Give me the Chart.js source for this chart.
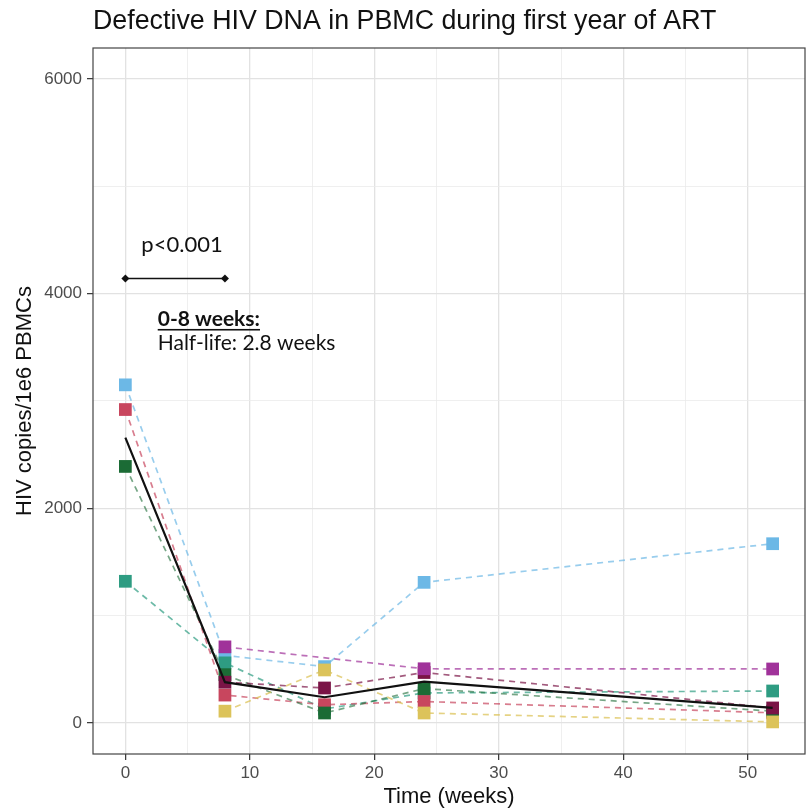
<!DOCTYPE html>
<html>
<head>
<meta charset="utf-8">
<script src="https://cdn.jsdelivr.net/npm/chart.js@4.4.1/dist/chart.umd.min.js"></script>
<style>
  html, body { margin: 0; padding: 0; background: #fff; }
  canvas { display: block; }
</style>
</head>
<body>
<canvas id="chart" width="808" height="811"></canvas>
<script>
// data (HIV copies / 1e6 PBMCs)
const weeks = [0, 8, 16, 24, 52];
const ptBlue      = [3150, 630, 525, 1310, 1670];
const ptRed       = [2920, 260, 170, 200, 95];
const ptDarkGreen = [2390, 450, 93, 320, 110];
const ptTeal      = [1320, 560, 130, 280, 298];
const ptPurple    = [null, 709, null, 505, 503];
const ptMaroon    = [null, 380, 326, 470, 140];
const ptYellow    = [null, 110, 494, 93, 10];
const meanFit     = [2658, 380, 240, 385, 140];

const sigWeeks = [0, 8];
const sigLevel = 4140;

const xTicks = [0, 10, 20, 30, 40, 50];
const yTicks = [0, 2000, 4000, 6000];

const titleText = 'Defective HIV DNA in PBMC during first year of ART';
const xTitle = 'Time (weeks)';
const yTitle = 'HIV copies/1e6 PBMCs';
const pText = 'p<0.001';
const rangeText = '0-8 weeks:';
const halfLifeText = 'Half-life: 2.8 weeks';

// listed bottom to top (later ones are drawn over earlier ones)
const participants = [
  { data: ptBlue,      color: '#6CB8E6', line: 'rgba(108,184,230,0.7)' },
  { data: ptTeal,      color: '#2E9C82', line: 'rgba(46,156,130,0.7)' },
  { data: ptRed,       color: '#C8465E', line: 'rgba(200,70,94,0.7)' },
  { data: ptDarkGreen, color: '#1B6B35', line: 'rgba(27,107,53,0.6)' },
  { data: ptYellow,    color: '#DCC35A', line: 'rgba(220,195,90,0.75)' },
  { data: ptMaroon,    color: '#7A1446', line: 'rgba(122,20,70,0.7)' },
  { data: ptPurple,    color: '#A0329A', line: 'rgba(160,50,154,0.7)' }
];

const toXY = vals => weeks.map((w, i) => ({ x: w, y: vals[i] }));
const n = participants.length;

const datasets = [];
participants.forEach((p, i) => {
  datasets.push({
    data: toXY(p.data),
    borderColor: p.line,
    borderWidth: 1.7,
    borderDash: [6, 5],
    pointRadius: 0,
    spanGaps: true,
    order: 20 + n - i
  });
  datasets.push({
    data: toXY(p.data),
    showLine: false,
    pointStyle: 'rect',
    pointRadius: 9,
    pointBackgroundColor: p.color,
    pointBorderWidth: 0,
    order: 2 + n - i
  });
});
datasets.push({
  data: toXY(meanFit),
  borderColor: '#111',
  borderWidth: 2.2,
  pointRadius: 0,
  order: 1
});
datasets.push({
  data: sigWeeks.map(w => ({ x: w, y: sigLevel })),
  borderColor: '#111',
  borderWidth: 1.6,
  pointStyle: 'rectRot',
  pointRadius: 4,
  pointBackgroundColor: '#111',
  pointBorderWidth: 0,
  order: 0
});

const minorX = xTicks.slice(0, -1).map(v => v + 5);
const minorY = yTicks.slice(0, -1).map(v => v + 1000);

const gridOpts = majors => ({
  color: c => majors.includes(c.tick.value) ? '#E2E2E2' : '#EBEBEB',
  lineWidth: c => majors.includes(c.tick.value) ? 1.3 : 0.8,
  tickColor: c => majors.includes(c.tick.value) ? '#333' : 'rgba(0,0,0,0)',
  tickLength: 6,
  tickWidth: 1.2,
  drawTicks: true
});

const extras = {
  id: 'extras',
  afterDraw(chart) {
    const { ctx, chartArea: a, scales: { x, y } } = chart;
    ctx.save();
    // panel border
    ctx.strokeStyle = '#444';
    ctx.lineWidth = 1.2;
    ctx.strokeRect(a.left, a.top, a.right - a.left, a.bottom - a.top);
    // title
    ctx.fillStyle = '#111';
    ctx.font = '26.8px "Liberation Sans", Arial, sans-serif';
    ctx.textBaseline = 'alphabetic';
    ctx.textAlign = 'left';
    ctx.fillText(titleText, a.left, 29);
    // annotations
    ctx.textBaseline = 'middle';
    ctx.textAlign = 'center';
    ctx.font = '22px Lato, "Open Sans", sans-serif';
    ctx.fillText(pText, x.getPixelForValue(4.55), y.getPixelForValue(4453));
    ctx.textAlign = 'left';
    const lx = x.getPixelForValue(2.6);
    ctx.font = 'bold 21px Lato, "Open Sans", sans-serif';
    const ry = y.getPixelForValue(3764);
    ctx.fillText(rangeText, lx, ry);
    const w = ctx.measureText(rangeText).width;
    ctx.fillRect(lx, ry + 10, w, 1.6);
    ctx.font = '21px Lato, "Open Sans", sans-serif';
    ctx.fillText(halfLifeText, lx, y.getPixelForValue(3540));
    ctx.restore();
  }
};

new Chart(document.getElementById('chart'), {
  type: 'line',
  data: { datasets },
  plugins: [extras],
  options: {
    responsive: false,
    animation: false,
    devicePixelRatio: 1,
    layout: { autoPadding: false, padding: { top: 48, right: 3, left: 0, bottom: 0 } },
    plugins: { legend: { display: false }, tooltip: { enabled: false } },
    scales: {
      x: {
        type: 'linear',
        min: -2.6,
        max: 54.6,
        afterBuildTicks: s => { s.ticks = [...xTicks, ...minorX].sort((a, b) => a - b).map(v => ({ value: v })); },
        afterFit: s => { s.height = 57; s.paddingLeft = 0; s.paddingRight = 0; },
        border: { display: false },
        grid: gridOpts(xTicks),
        ticks: {
          autoSkip: false,
          maxRotation: 0,
          padding: 3,
          color: '#4D4D4D',
          font: { family: '"Liberation Sans", Arial, sans-serif', size: 17 },
          callback: v => xTicks.includes(v) ? String(v) : ''
        },
        title: {
          display: true,
          text: xTitle,
          color: '#111',
          padding: { top: 0, bottom: 1 },
          font: { family: '"Liberation Sans", Arial, sans-serif', size: 22 }
        }
      },
      y: {
        type: 'linear',
        min: -289,
        max: 6288,
        afterBuildTicks: s => { s.ticks = [...yTicks, ...minorY].sort((a, b) => a - b).map(v => ({ value: v })); },
        afterFit: s => { s.width = 93; s.paddingTop = 0; s.paddingBottom = 0; },
        border: { display: false },
        grid: gridOpts(yTicks),
        ticks: {
          autoSkip: false,
          padding: 5,
          color: '#4D4D4D',
          font: { family: '"Liberation Sans", Arial, sans-serif', size: 17 },
          callback: v => yTicks.includes(v) ? String(v) : ''
        },
        title: {
          display: true,
          text: yTitle,
          color: '#111',
          padding: { top: 12, bottom: 0 },
          font: { family: '"Liberation Sans", Arial, sans-serif', size: 22 }
        }
      }
    }
  }
});
</script>
</body>
</html>
